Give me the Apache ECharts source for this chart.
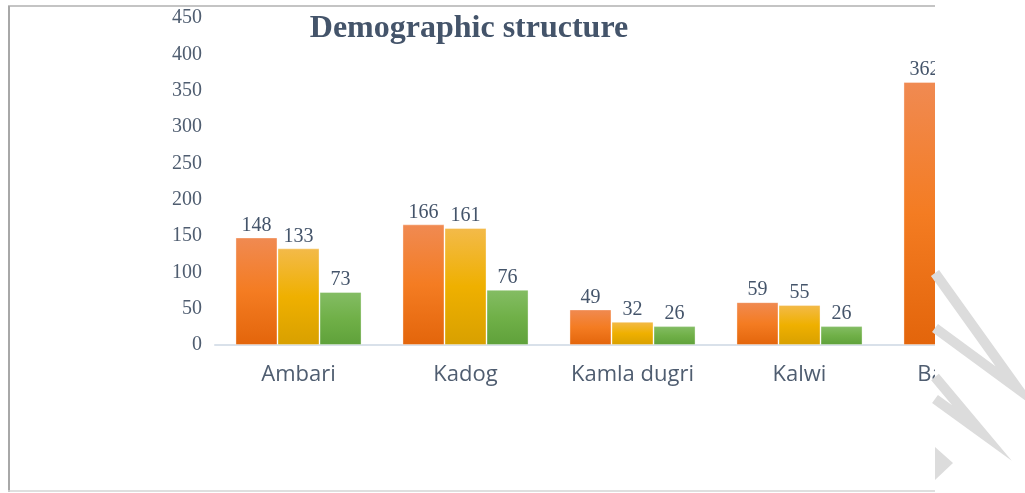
<!DOCTYPE html>
<html>
<head>
<meta charset="utf-8">
<script src="https://cdn.jsdelivr.net/npm/echarts@6/dist/echarts.min.js"></script>
<style>
  html, body { margin: 0; padding: 0; background: #fff; overflow: hidden; }
  /* the picture is a crop: the plot runs on past the right edge */
  #chart { width: 1050px; height: 493px; }
</style>
</head>
<body>
<div id="chart"></div>
<script>
const villages = ['Ambari', 'Kadog', 'Kamla dugri', 'Kalwi', 'Barkheda']
// three series per village, the last village is cut off in the picture
const seriesA = [148, 166, 49, 59, 362]
const seriesB = [133, 161, 32, 55, null]
const seriesC = [73, 76, 26, 26, null]
const yTicks = [0, 50, 100, 150, 200, 250, 300, 350, 400, 450]

const grad = (top, mid, bottom) => new echarts.graphic.LinearGradient(0, 0, 0, 1, [
  {offset: 0, color: top},
  {offset: 0.5, color: mid},
  {offset: 1, color: bottom}
])

const labelStyle = {
  show: true,
  position: 'top',
  distance: 2,
  fontFamily: 'Liberation Serif',
  fontSize: 20,
  color: '#44546a'
}

const barSeries = (data, color) => ({
  type: 'bar',
  data: data,
  barGap: '0%',
  barCategoryGap: '24.5%',
  itemStyle: {
    color: color,
    borderColor: 'rgba(255,255,255,0.35)',
    borderWidth: 1
  },
  label: labelStyle
})

const myChart = echarts.init(document.getElementById('chart'))

const option = {
  animation: false,
  title: {
    text: 'Demographic structure',
    left: 464,
    textAlign: 'center',
    top: 8,
    textStyle: {
      fontFamily: 'Liberation Serif',
      fontWeight: 'bold',
      fontSize: 32,
      color: '#44546a'
    }
  },
  grid: {
    left: 215,
    right: 0,
    top: 18,
    bottom: 148,
    containLabel: false
  },
  xAxis: {
    type: 'category',
    data: villages,
    axisLine: {lineStyle: {color: '#d9e1ea', width: 2}},
    axisTick: {show: false},
    axisLabel: {
      margin: 19,
      fontFamily: 'Open Sans',
      fontSize: 22,
      color: '#4f5d70'
    }
  },
  yAxis: {
    type: 'value',
    min: yTicks[0],
    max: yTicks[yTicks.length - 1],
    interval: 50,
    axisLine: {show: false},
    axisTick: {show: false},
    splitLine: {show: false},
    axisLabel: {
      margin: 13,
      fontFamily: 'Liberation Serif',
      fontSize: 20,
      color: '#4f5d70'
    }
  },
  series: [
    barSeries(seriesA, grad('#f08a52', '#f47c22', '#e3650b')),
    barSeries(seriesB, grad('#f3ba4a', '#efb000', '#d8a000')),
    barSeries(seriesC, grad('#84bd64', '#70b048', '#5fa13a'))
  ],
  graphic: [
    // page border of the clipped picture
    {type: 'line', z: 100, shape: {x1: 8, y1: 6, x2: 935, y2: 6}, style: {stroke: '#c4c4c4', lineWidth: 2}},
    {type: 'line', z: 100, shape: {x1: 9, y1: 6, x2: 9, y2: 492}, style: {stroke: '#a8a8a8', lineWidth: 2}},
    {type: 'line', z: 100, shape: {x1: 8, y1: 491, x2: 935, y2: 491}, style: {stroke: '#d4d4d4', lineWidth: 1.5}},
    // blank strip on the right
    {type: 'rect', z: 100, shape: {x: 935, y: 0, width: 115, height: 493}, style: {fill: '#fff'}},
    // watermark strokes
    {type: 'polyline', z: 101, shape: {points: [[935, 273], [1018, 389], [935, 328]]}, style: {stroke: '#dcdcdc', lineWidth: 10, fill: null}},
    {type: 'polyline', z: 101, shape: {points: [[935, 377], [982, 433], [935, 399]]}, style: {stroke: '#dcdcdc', lineWidth: 10, fill: null}},
    {type: 'polygon', z: 101, shape: {points: [[935, 447], [953, 463], [935, 480]]}, style: {fill: '#dcdcdc'}}
  ]
}

myChart.setOption(option)
</script>
</body>
</html>
